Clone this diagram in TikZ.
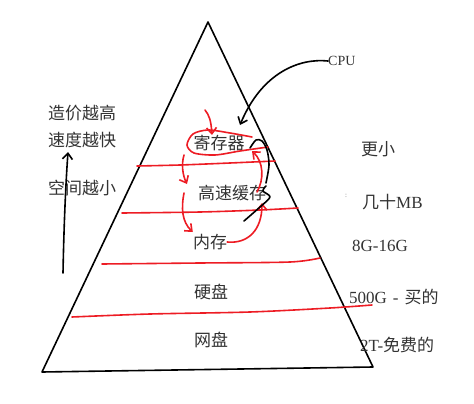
\documentclass[tikz,border=0pt]{standalone}
\usepackage{fontspec}
\setmainfont{Liberation Serif}
\newfontfamily\cjk{Noto Sans CJK SC}
\usetikzlibrary{arrows.meta}
\definecolor{paintred}{RGB}{237,28,36}
\tikzset{
  lbl/.style={font=\fontsize{17}{19}\selectfont, text=black!80, inner sep=0pt},
  redln/.style={paintred, line width=1.6pt, line cap=round, line join=round},
  blkln/.style={black, line width=1.6pt, line cap=round, line join=round},
  barb/.style={-{Straight Barb[length=6pt,width=10pt]}},
}
\begin{document}
\begin{tikzpicture}[x=1pt,y=-1pt]
\useasboundingbox (0,0) rectangle (474,404);
% pyramid
\coordinate (apex) at (208,22);
\coordinate (bl) at (42,372);
\coordinate (br) at (373,367);
\draw[blkln] (bl) -- (apex) -- (br) -- cycle;

% layer names
\node[lbl] (reg) at (219,143) {\cjk 寄存器};
\node[lbl] (cache) at (232,193) {\cjk 高速缓存};
\node[lbl] (mem) at (210,242) {\cjk 内存};
\node[lbl] (disk) at (211,292) {\cjk 硬盘};
\node[lbl] (net) at (211,340) {\cjk 网盘};

% left side
\node[lbl] (cost) at (82,113) {\cjk 造价越高};
\node[lbl] (speed) at (82,140) {\cjk 速度越快};
\node[lbl] (space) at (82,188) {\cjk 空间越小};

% right side
\node[lbl, anchor=west, font=\fontsize{14}{16}\selectfont] (cpu) at (328,61) {CPU};
\node[lbl, anchor=west] (sz1) at (361,149) {\cjk 更小};
\node[lbl, anchor=west, font=\fontsize{7}{7}\selectfont, text=black!55] (mark) at (345,196) {:};
\node[lbl, anchor=west] (sz2) at (362,202) {{\cjk 几十}MB};
\node[lbl, anchor=west] (sz3) at (352,246) {8G-16G};
\node[lbl, anchor=west] (sz4) at (349,297) {500G\hspace{6pt}-\hspace{6pt}{\cjk 买的}};
\node[lbl, anchor=west] (sz5) at (360,345) {2T-{\cjk 免费的}};

% separators
\draw[redln] plot[smooth] coordinates {(137,166) (180,165) (230,163) (275,161)};
\draw[redln] plot[smooth] coordinates {(122,213) (200,212) (260,210) (298,208)};
\draw[redln] plot[smooth] coordinates {(102,264) (200,263) (290,262) (320,258)};
\draw[redln] plot[smooth] coordinates {(72,317) (150,314) (250,312) (330,308) (372,305)};

% loop round the registers
\draw[redln] plot[smooth] coordinates {(252,137) (230,133) (208,130) (193,134) (187,145) (194,153) (215,155) (240,151) (268,147)};

% red arrows
\coordinate (r0) at (205,110);
\draw[redln, barb] (r0) .. controls (209,115) and (211,120) .. ([xshift=-7pt]reg.north);
\draw[redln, barb] (184,155) .. controls (181,165) and (183,176) .. (187,184);
\draw[redln, barb] (184,193) .. controls (181,208) and (182,222) .. (mem.west |- 0,232);
\draw[redln, barb] (mem.east) .. controls (248,244) and (262,230) .. (262,203);
\draw[redln, barb] (257,192) .. controls (264,180) and (264,162) .. (252,151);

% black strokes
\draw[blkln, barb] (cpu.west) .. controls (300,58) and (262,72) .. (240,125);
\draw[blkln] plot[smooth] coordinates {(250,148) (256,140) (262,141) (267,150) (269,165) (266,183)};
\draw[blkln] plot[smooth] coordinates {(266,186) (263,191) (270,197) (260,207) (244,221)};

% left arrow
\coordinate (up0) at (63,273);
\coordinate (up1) at (68,152);
\draw[blkln, barb] (up0) .. controls (64,220) and (66,180) .. (up1);
\end{tikzpicture}
\end{document}
